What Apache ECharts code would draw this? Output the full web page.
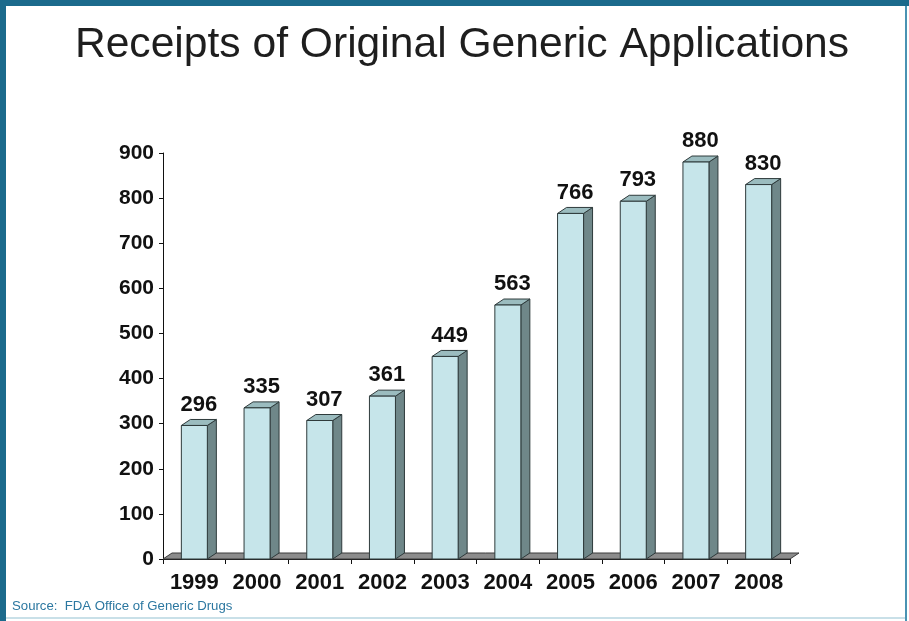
<!DOCTYPE html>
<html>
<head>
<meta charset="utf-8">
<script src="https://cdn.jsdelivr.net/npm/echarts@6/dist/echarts.min.js"></script>
<style>
html,body{margin:0;padding:0;background:#fff;}
#chart{width:909px;height:621px;}
</style>
</head>
<body>
<div id="chart"></div>
<script>
// Receipts of original generic applications per year
var years = ['1999','2000','2001','2002','2003','2004','2005','2006','2007','2008'];
var receipts = [296, 335, 307, 361, 449, 563, 766, 793, 880, 830];
var yTicks = [0, 100, 200, 300, 400, 500, 600, 700, 800, 900];

var FONT = '"Liberation Sans", Arial, sans-serif';
var DX = 9, DY = -6;      // depth offset of the 3D faces
var FACE_W = 26;          // front face width in px

var chart = echarts.init(document.getElementById('chart'));

function barItem(params, api) {
  var x = api.coord([api.value(0), 0]);
  var top = api.coord([api.value(0), api.value(1)]);
  var cx = x[0], by = x[1], ty = top[1];
  var l = cx - FACE_W / 2, r = cx + FACE_W / 2;
  return {
    type: 'group',
    children: [
      { type: 'polygon', shape: { points: [[r, by], [r + DX, by + DY], [r + DX, ty + DY], [r, ty]] },
        style: { fill: '#6f8789', stroke: '#2e3a3b', lineWidth: 1 } },
      { type: 'polygon', shape: { points: [[l, ty], [l + DX, ty + DY], [r + DX, ty + DY], [r, ty]] },
        style: { fill: '#9bbcbf', stroke: '#2e3a3b', lineWidth: 1 } },
      { type: 'rect', shape: { x: l, y: ty, width: FACE_W, height: by - ty },
        style: { fill: '#c6e5ea', stroke: '#2e3a3b', lineWidth: 1 } },
      { type: 'text', style: { text: String(api.value(1)), x: cx + DX / 2, y: ty + DY - 4,
        align: 'center', verticalAlign: 'bottom', fill: '#111',
        font: 'bold 22px ' + FONT } }
    ]
  };
}

// grey floor strip along the category axis
function floorItem(params, api) {
  var c = api.coord([0, 0]);
  var bw = api.size([1, 0])[0];
  var x0 = c[0] - bw / 2, y0 = c[1];
  var x1 = x0 + bw * years.length;
  return {
    type: 'polygon',
    shape: { points: [[x0, y0], [x0 + DX, y0 + DY], [x1 + DX, y0 + DY], [x1, y0]] },
    style: { fill: '#8c8c8c', stroke: '#3a3a3a', lineWidth: 1 }
  };
}

chart.setOption({
  animation: false,
  backgroundColor: '#fff',
  title: {
    text: 'Receipts of Original Generic Applications',
    left: 457, top: 19, textAlign: 'center',
    textStyle: { fontFamily: FONT, fontSize: 42.6, fontWeight: 'normal', color: '#1e1e1e' }
  },
  graphic: [
    { type: 'rect', shape: { x: 0, y: 0, width: 909, height: 6 }, style: { fill: '#1b6a8c' }, z: 100 },
    { type: 'rect', shape: { x: 0, y: 0, width: 6, height: 621 }, style: { fill: '#1b6a8c' }, z: 100 },
    { type: 'rect', shape: { x: 905, y: 6, width: 2, height: 615 }, style: { fill: '#4a93b3' }, z: 100 },
    { type: 'rect', shape: { x: 6, y: 617, width: 899, height: 2 }, style: { fill: '#c9e0e8' }, z: 100 },
    { type: 'text', left: 12, top: 600, style: { text: 'Source:  FDA Office of Generic Drugs',
      fill: '#2b77a0', font: '13.2px ' + FONT } }
  ],
  grid: { left: 163, top: 153, width: 627, height: 406 },
  xAxis: {
    type: 'category', data: years,
    axisLine: { lineStyle: { color: '#111', width: 1 } },
    axisTick: { show: true, interval: 0, alignWithLabel: false, length: 5, lineStyle: { color: '#111' } },
    axisLabel: { interval: 0, hideOverlap: false, color: '#111', fontFamily: FONT, fontSize: 22,
      fontWeight: 'bold', margin: 13 },
    z: 1
  },
  yAxis: {
    type: 'value', min: 0, max: 900, interval: 100,
    axisLine: { show: true, lineStyle: { color: '#111', width: 1 } },
    axisTick: { show: true, length: 4, lineStyle: { color: '#111' } },
    splitLine: { show: false },
    axisLabel: { color: '#111', fontFamily: FONT, fontSize: 21, fontWeight: 'bold', margin: 9,
      formatter: function (v) { return yTicks.indexOf(v) >= 0 ? String(v) : ''; } }
  },
  series: [
    { type: 'custom', renderItem: floorItem, data: [[0]], z: 2, silent: true },
    { type: 'custom', renderItem: barItem, z: 3,
      data: receipts.map(function (v, i) { return [i, v]; }),
      encode: { x: 0, y: 1 } }
  ]
});
</script>
</body>
</html>
